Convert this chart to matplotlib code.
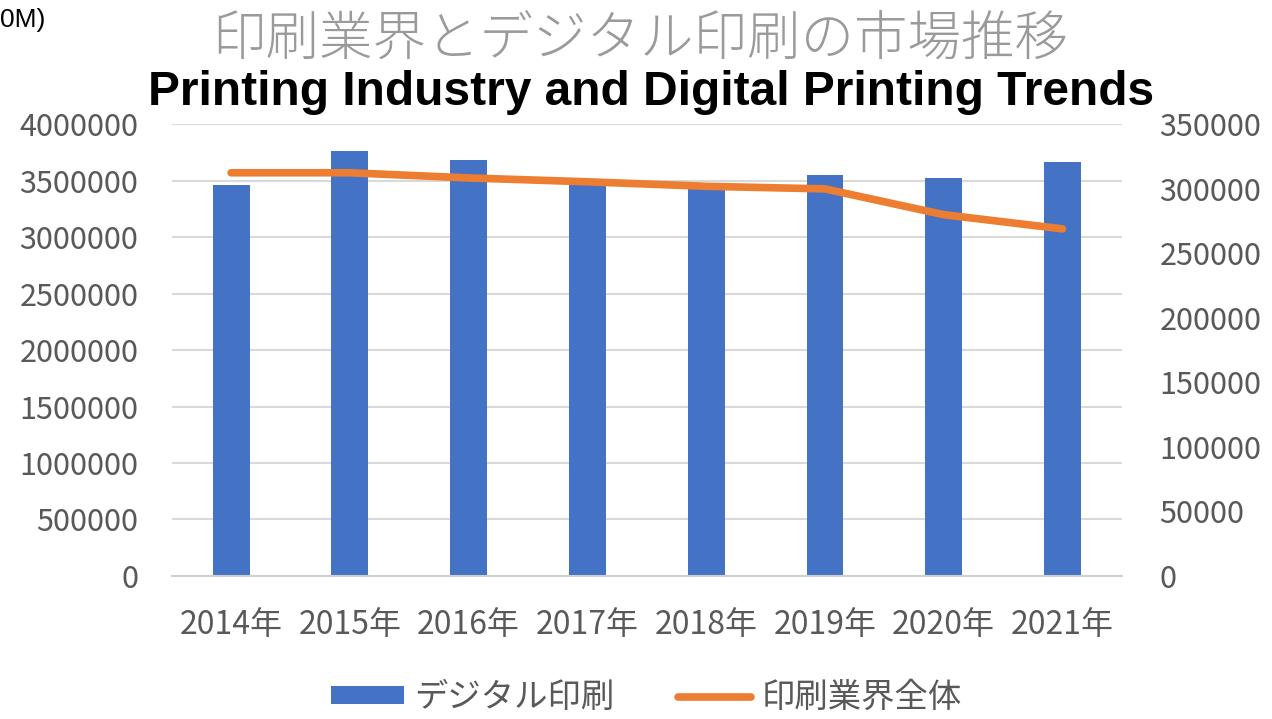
import numpy as np
import matplotlib.pyplot as plt

plt.rcParams['font.family'] = ['Noto Sans CJK JP', 'DejaVu Sans']

years = ['2014年', '2015年', '2016年', '2017年', '2018年', '2019年', '2020年', '2021年']
digital = [3465000, 3765000, 3685000, 3480000, 3475000, 3550000, 3525000, 3665000]
industry = [312500, 312500, 308500, 305500, 302000, 300000, 280000, 269000]
left_ticks = [0, 500000, 1000000, 1500000, 2000000, 2500000, 3000000, 3500000, 4000000]
right_ticks = [0, 50000, 100000, 150000, 200000, 250000, 300000, 350000]

BLUE = '#4472C4'
ORANGE = '#ED7D31'
GRAY = '#595959'

fig = plt.figure(figsize=(12.72, 7.19), dpi=100)
ax = fig.add_axes([0.135, 0.199, 0.747, 0.628])
ax2 = ax.twinx()

x = np.arange(len(years))
bars = ax.bar(x, digital, width=0.31, color=BLUE, label='デジタル印刷', zorder=2)
line, = ax2.plot(x, industry, color=ORANGE, lw=5.5, solid_capstyle='round',
                 solid_joinstyle='round', label='印刷業界全体', zorder=3)

ax.set_xlim(-0.5, len(years) - 0.5)
ax.set_ylim(0, 4000000)
ax2.set_ylim(0, 350000)
ax.set_yticks(left_ticks)
ax.set_yticklabels([str(v) for v in left_ticks])
ax2.set_yticks(right_ticks)
ax2.set_yticklabels([str(v) for v in right_ticks])
ax.set_xticks(x)
ax.set_xticklabels(years)

ax.grid(axis='y', color='#d9d9d9', lw=1.5, zorder=0)
ax.set_axisbelow(True)
for a in (ax, ax2):
    for s in a.spines.values():
        s.set_visible(False)
    a.tick_params(length=0, colors=GRAY, labelsize=22)
ax.spines['bottom'].set_visible(True)
ax.spines['bottom'].set_color('#d0d0d0')
ax.spines['bottom'].set_linewidth(1.5)
ax.tick_params(axis='y', pad=24)
ax.tick_params(axis='x', pad=24, labelsize=23)
ax2.tick_params(axis='y', pad=27)
ax2.set_zorder(ax.get_zorder() + 1)
ax2.patch.set_visible(False)

fig.text(0.503, 0.944, '印刷業界とデジタル印刷の市場推移', ha='center', va='center',
         fontsize=38.5, color='#9a9a9a', fontweight='light')
fig.text(0.512, 0.872, 'Printing Industry and Digital Printing Trends', ha='center',
         va='center', fontsize=34.5, fontweight='bold', color='black',
         family='Liberation Sans')
fig.text(0.0, 0.972, '0M)', ha='left', va='center', fontsize=19,
         color='black', family='Liberation Sans')

fig.legend([bars, line], ['デジタル印刷', '印刷業界全体'], loc='center',
           bbox_to_anchor=(0.508, 0.03), ncol=2, frameon=False, fontsize=24,
           labelcolor=GRAY, handlelength=2.2, handleheight=0.45,
           handletextpad=0.3, columnspacing=1.9)

fig.savefig('out.png', dpi=100)
